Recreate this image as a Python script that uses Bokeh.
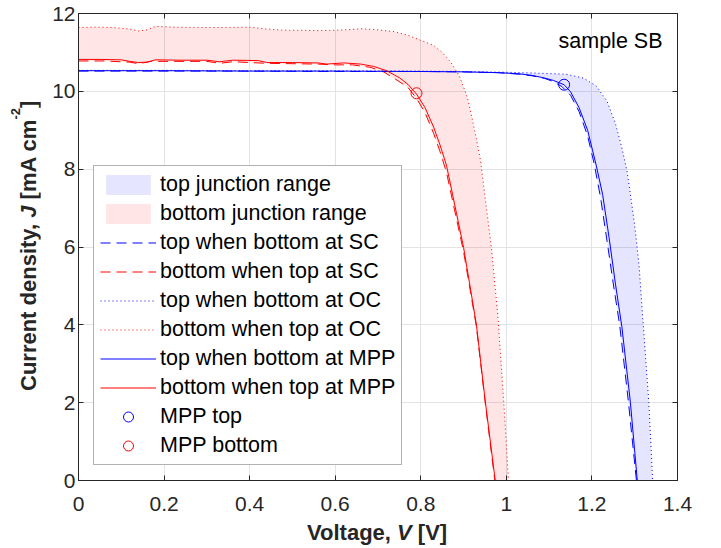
from bokeh.plotting import figure
from bokeh.models import (Range1d, LinearAxis, FixedTicker, Legend, LegendItem, Label, Div)
from bokeh.layouts import column, row
from bokeh.embed import file_html
from bokeh.resources import INLINE

# ---------------- data ----------------
x_ticks = [0, 0.2, 0.4, 0.6, 0.8, 1.0, 1.2, 1.4]
x_tick_labels = ["0", "0.2", "0.4", "0.6", "0.8", "1", "1.2", "1.4"]
y_ticks = [0, 2, 4, 6, 8, 10, 12]
y_tick_labels = ["0", "2", "4", "6", "8", "10", "12"]

# top junction (blue)
top_sc_v = [0.0, 0.2, 0.4, 0.6, 0.8, 0.9, 0.98, 1.03, 1.06, 1.09, 1.11, 1.13, 1.15, 1.17,
            1.19, 1.205, 1.22, 1.235, 1.25, 1.265, 1.285, 1.304]
top_sc_j = [10.52, 10.52, 10.52, 10.51, 10.51, 10.50, 10.48, 10.44, 10.40, 10.33, 10.25, 10.12,
            9.90, 9.48, 8.85, 8.15, 7.28, 6.18, 5.05, 3.98, 2.05, 0.0]

top_oc_v = [0.0, 0.2, 0.4, 0.6, 0.8, 0.9, 1.0, 1.064, 1.14, 1.18, 1.21, 1.235, 1.255, 1.27,
            1.282, 1.29, 1.30, 1.31, 1.32, 1.333, 1.342]
top_oc_j = [10.54, 10.54, 10.53, 10.53, 10.52, 10.51, 10.49, 10.47, 10.44, 10.34, 10.14, 9.75,
            9.17, 8.55, 7.95, 7.35, 6.55, 5.55, 4.00, 2.00, 0.0]

top_mpp_v = [0.0, 0.2, 0.4, 0.6, 0.8, 0.9, 0.98, 1.03, 1.06, 1.09, 1.11, 1.135, 1.15, 1.17,
             1.19, 1.21, 1.225, 1.24, 1.255, 1.27, 1.29, 1.306]
top_mpp_j = [10.53, 10.53, 10.52, 10.52, 10.51, 10.50, 10.48, 10.45, 10.41, 10.34, 10.28, 10.17,
             9.99, 9.58, 9.00, 8.10, 7.35, 6.25, 5.05, 3.95, 2.00, 0.0]

# bottom junction (red)
bot_sc_v = [0.00, 0.06, 0.12, 0.14, 0.17, 0.20, 0.30, 0.33, 0.36, 0.44, 0.50, 0.56, 0.60, 0.64,
            0.68, 0.71, 0.74, 0.77, 0.79, 0.81, 0.83, 0.845, 0.86, 0.88, 0.90, 0.915, 0.93,
            0.95, 0.973]
bot_sc_j = [10.78, 10.78, 10.75, 10.71, 10.77, 10.77, 10.77, 10.72, 10.76, 10.72, 10.71, 10.70,
            10.68, 10.68, 10.62, 10.52, 10.32, 10.10, 9.82, 9.45, 8.92, 8.45, 7.92, 6.90, 5.88,
            4.92, 3.95, 2.05, 0.0]

bot_oc_v = [0.00, 0.04, 0.08, 0.12, 0.14, 0.16, 0.18, 0.22, 0.28, 0.34, 0.40, 0.44, 0.48, 0.52,
            0.56, 0.60, 0.64, 0.66, 0.70, 0.74, 0.77, 0.80, 0.83, 0.85, 0.87, 0.89, 0.90, 0.91,
            0.92, 0.93, 0.94, 0.95, 0.965, 0.98, 0.994, 1.005]
bot_oc_j = [11.64, 11.65, 11.64, 11.60, 11.55, 11.58, 11.67, 11.65, 11.64, 11.64, 11.65, 11.60,
            11.57, 11.57, 11.56, 11.57, 11.59, 11.61, 11.58, 11.53, 11.44, 11.31, 11.18, 11.00,
            10.75, 10.40, 10.11, 9.80, 9.30, 8.78, 8.20, 7.30, 5.99, 4.25, 2.00, 0.0]

bot_mpp_v = [0.00, 0.05, 0.10, 0.12, 0.14, 0.16, 0.18, 0.24, 0.30, 0.33, 0.36, 0.42, 0.44, 0.50,
             0.56, 0.58, 0.62, 0.66, 0.69, 0.72, 0.75, 0.77, 0.79, 0.81, 0.83, 0.845, 0.86, 0.88,
             0.90, 0.915, 0.93, 0.95, 0.974]
bot_mpp_j = [10.82, 10.82, 10.81, 10.77, 10.74, 10.75, 10.81, 10.80, 10.80, 10.76, 10.80, 10.79,
             10.74, 10.74, 10.73, 10.70, 10.73, 10.70, 10.64, 10.53, 10.35, 10.18, 9.93, 9.58,
             9.08, 8.62, 8.10, 7.05, 5.99, 5.00, 4.00, 2.10, 0.0]

mpp_top_v, mpp_top_j = [1.135], [10.17]
mpp_bot_v, mpp_bot_j = [0.79], [9.95]

x_label_html = "Voltage, <i>V</i> [V]"
y_label_html = ("Current density, <i>J</i> [mA cm"
                "<span style='font-size:13px;position:relative;top:-16px'>-2</span>]")

# ---------------- figure ----------------
FONT = "Liberation Sans"
AX_COLOR = "#262626"
YDIV_W = 40

p = figure(frame_width=599, frame_height=467,
           min_border_left=78 - YDIV_W, min_border_right=28, min_border_top=13,
           min_border_bottom=40,
           x_range=Range1d(0, 1.4), y_range=Range1d(0, 12),
           output_backend="svg", toolbar_location=None)
p.outline_line_color = AX_COLOR
p.background_fill_color = "white"

p.add_layout(LinearAxis(), "above")
p.add_layout(LinearAxis(), "right")

for ax in p.xaxis:
    ax.ticker = FixedTicker(ticks=x_ticks)
for ax in p.yaxis:
    ax.ticker = FixedTicker(ticks=y_ticks)

for ax in p.axis:
    ax.axis_line_color = AX_COLOR
    ax.major_tick_line_color = AX_COLOR
    ax.major_tick_in = 5
    ax.major_tick_out = 0
    ax.minor_tick_line_color = None
    ax.major_label_text_font = FONT
    ax.major_label_text_font_size = "21px"
    ax.major_label_text_color = AX_COLOR

p.below[0].major_label_overrides = {t: l for t, l in zip(x_ticks, x_tick_labels)}
p.below[0].major_label_standoff = 16
p.left[0].major_label_overrides = {t: l for t, l in zip(y_ticks, y_tick_labels)}
p.left[0].major_label_standoff = 3
p.above[0].major_label_text_font_size = "0px"
p.above[0].major_label_text_alpha = 0
p.right[0].major_label_text_font_size = "0px"
p.right[0].major_label_text_alpha = 0

p.xgrid.ticker = FixedTicker(ticks=x_ticks)
p.ygrid.ticker = FixedTicker(ticks=y_ticks)
p.grid.grid_line_color = "#e3e3e3"
p.grid.grid_line_width = 1

# ---------------- bands ----------------
top_band = p.patch(top_sc_v + top_oc_v[::-1], top_sc_j + top_oc_j[::-1],
                   fill_color="blue", fill_alpha=0.1, line_color=None)
bot_band = p.patch(bot_sc_v + bot_oc_v[::-1], bot_sc_j + bot_oc_j[::-1],
                   fill_color="red", fill_alpha=0.1, line_color=None)

# ---------------- lines ----------------
DASH = "10 6"
DOT = "1 3"
r_top_sc = p.line(top_sc_v, top_sc_j, line_color="blue", line_width=1, line_dash=DASH)
r_bot_sc = p.line(bot_sc_v, bot_sc_j, line_color="red", line_width=1, line_dash=DASH)
r_top_oc = p.line(top_oc_v, top_oc_j, line_color="blue", line_width=1, line_dash=DOT)
r_bot_oc = p.line(bot_oc_v, bot_oc_j, line_color="red", line_width=1, line_dash=DOT)
r_top_mpp = p.line(top_mpp_v, top_mpp_j, line_color="blue", line_width=1)
r_bot_mpp = p.line(bot_mpp_v, bot_mpp_j, line_color="red", line_width=1)
r_mpp_top = p.scatter(mpp_top_v, mpp_top_j, marker="circle", size=11, fill_color=None,
                      line_color="blue", line_width=1)
r_mpp_bot = p.scatter(mpp_bot_v, mpp_bot_j, marker="circle", size=11, fill_color=None,
                      line_color="red", line_width=1)

# ---------------- legend ----------------
legend = Legend(items=[
    LegendItem(label="top junction range", renderers=[top_band]),
    LegendItem(label="bottom junction range", renderers=[bot_band]),
    LegendItem(label="top when bottom at SC", renderers=[r_top_sc]),
    LegendItem(label="bottom when top at SC", renderers=[r_bot_sc]),
    LegendItem(label="top when bottom at OC", renderers=[r_top_oc]),
    LegendItem(label="bottom when top at OC", renderers=[r_bot_oc]),
    LegendItem(label="top when bottom at MPP", renderers=[r_top_mpp]),
    LegendItem(label="bottom when top at MPP", renderers=[r_bot_mpp]),
    LegendItem(label="MPP top", renderers=[r_mpp_top]),
    LegendItem(label="MPP bottom", renderers=[r_mpp_bot]),
], location=(15, 15), glyph_width=56, glyph_height=25, label_height=25, spacing=4,
    padding=6, label_standoff=4, margin=0,
    label_text_font=FONT, label_text_font_size="21.5px", label_text_color="black",
    border_line_color="#666666", border_line_width=1,
    background_fill_color="white", background_fill_alpha=1)
p.add_layout(legend)

p.add_layout(Label(x=584, y=440, x_units="screen", y_units="screen", text="sample SB",
                   text_align="right", text_baseline="alphabetic", text_font=FONT,
                   text_font_size="21.5px", text_color="black"))

# ---------------- axis labels as HTML text ----------------
fig_h = 13 + 467 + 40
lab_style = (f"font-family:'{FONT}';font-weight:bold;font-size:22px;line-height:22px;"
             f"color:{AX_COLOR};white-space:nowrap;")
ydiv = Div(width=YDIV_W, height=fig_h, margin=0, styles={"overflow": "visible"},
           text=(f"<div style=\"{lab_style}width:0;transform-origin:0 0;"
                 f"transform:translate(18px,391px) rotate(-90deg);\">{y_label_html}</div>"))
xdiv = Div(width=YDIV_W + 28 + 599 + 38, height=28, margin=0, styles={"overflow": "visible"},
           text=f"<div style=\"{lab_style}padding-left:307px;padding-top:2px;\">{x_label_html}</div>")

layout = column(row(ydiv, p, spacing=0), xdiv, spacing=0)

open("out.html", "w").write(file_html(layout, INLINE))
